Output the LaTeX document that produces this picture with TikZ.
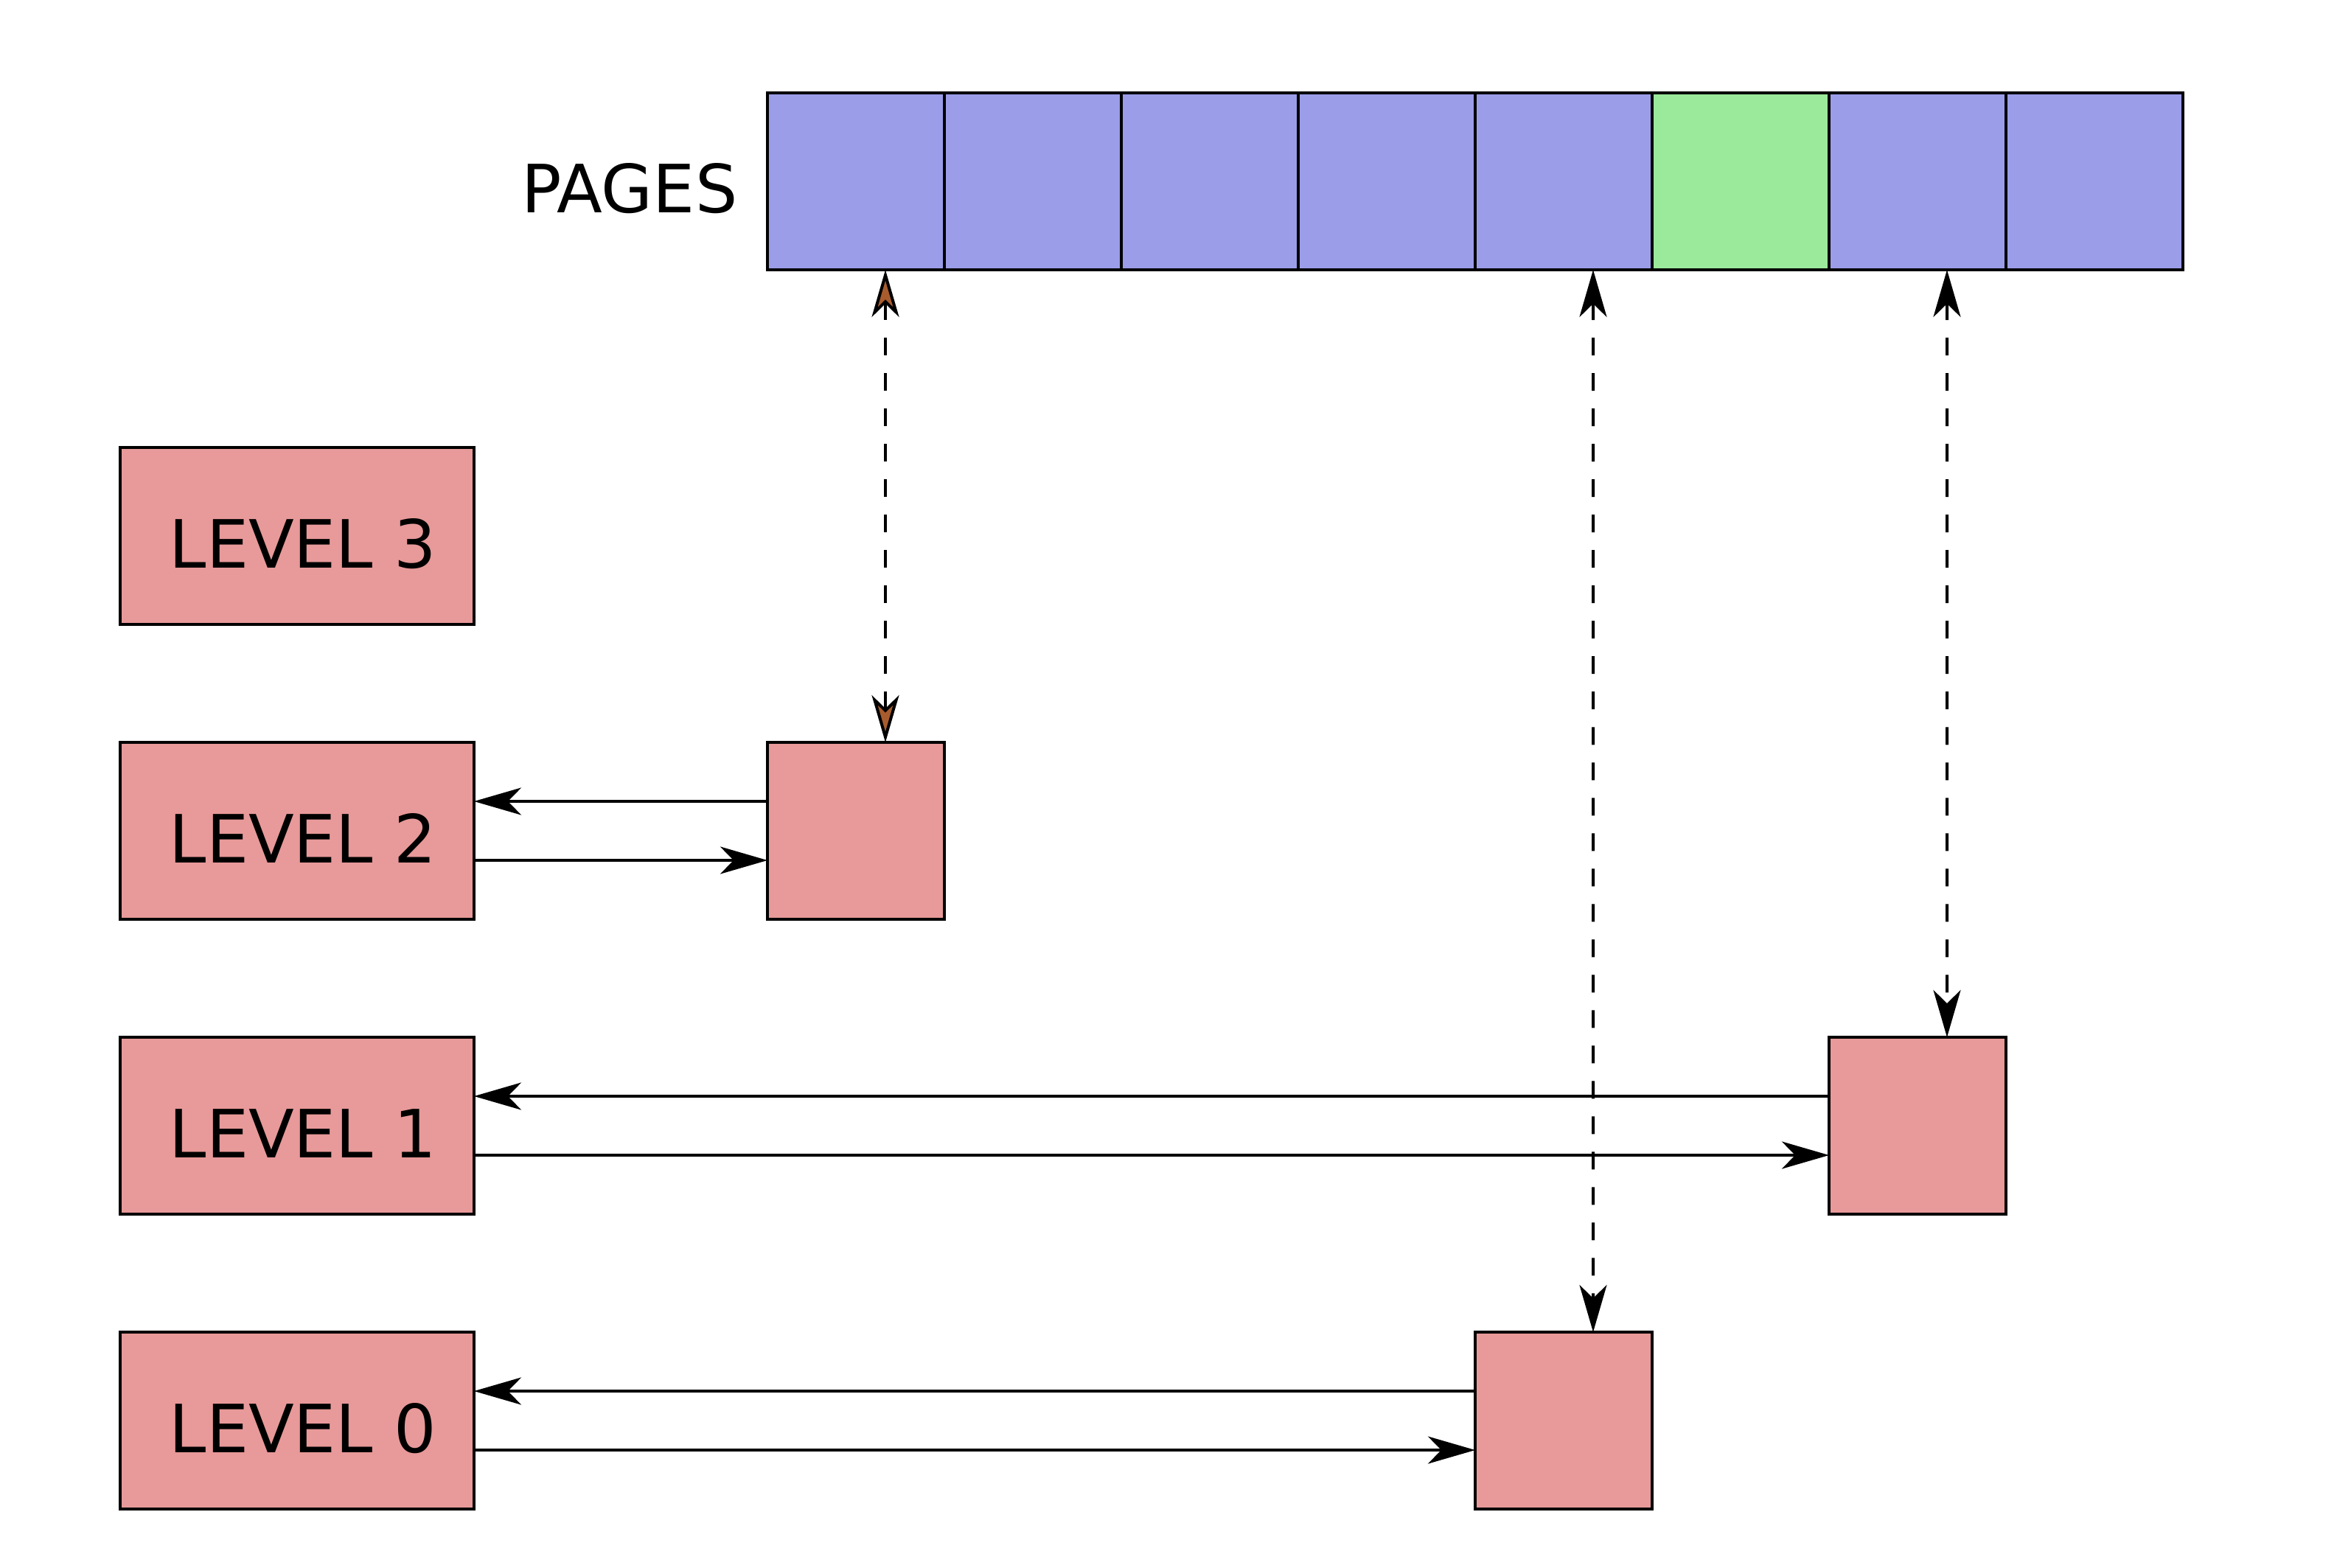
\documentclass[tikz,border=0pt]{standalone}
\usepackage{fontspec}
\setmainfont{DejaVu Sans}
\usetikzlibrary{arrows.meta,calc}

\definecolor{pagefill}{RGB}{155,157,233}
\definecolor{hotfill}{RGB}{155,233,155}
\definecolor{levelfill}{RGB}{232,153,153}
\definecolor{tipbrown}{RGB}{168,92,45}

\tikzset{
  box/.style={draw, line width=0.04cm, inner sep=0pt, outer sep=0pt, anchor=north west},
  cell/.style={box, minimum width=2.4cm, minimum height=2.4cm},
  levelbox/.style={box, fill=levelfill, minimum width=4.8cm, minimum height=2.4cm},
  slotbox/.style={box, fill=levelfill, minimum width=2.4cm, minimum height=2.4cm},
  lbl/.style={inner sep=0pt, font=\fontsize{25.7pt}{31pt}\selectfont},
  flow/.style={line width=0.04cm, -{Stealth[length=0.64cm,width=0.37cm,inset=0.18cm]}},
  link/.style={line width=0.04cm, dash pattern=on 0.24cm off 0.24cm,
    {Stealth[length=0.64cm,width=0.37cm,inset=0.18cm]}-{Stealth[length=0.64cm,width=0.37cm,inset=0.18cm]}},
  brownlink/.style={line width=0.04cm, dash pattern=on 0.24cm off 0.24cm,
    {Stealth[length=0.64cm,width=0.37cm,inset=0.18cm,fill=tipbrown]}-{Stealth[length=0.64cm,width=0.37cm,inset=0.18cm,fill=tipbrown]}},
}

\begin{document}
\begin{tikzpicture}
\useasboundingbox (0,0) rectangle (31.89,-21.26);

% page strip
\foreach \i/\c in {0/pagefill,1/pagefill,2/pagefill,3/pagefill,4/pagefill,5/hotfill,6/pagefill,7/pagefill}
  \node[cell, fill=\c] (p\i) at ({10.41+2.4*\i},-1.26) {};
\node[lbl, anchor=base east] (pages) at (10.01,-2.88) {PAGES};

% level boxes
\node[levelbox] (l3) at (1.63,-6.07) {};
\node[levelbox] (l2) at (1.63,-10.07) {};
\node[levelbox] (l1) at (1.63,-14.07) {};
\node[levelbox] (l0) at (1.63,-18.07) {};
\node[lbl, anchor=base west] (t3) at (2.29,-7.70) {LEVEL 3};
\node[lbl, anchor=base west] (t2) at (2.29,-11.70) {LEVEL 2};
\node[lbl, anchor=base west] (t1) at (2.29,-15.70) {LEVEL 1};
\node[lbl, anchor=base west] (t0) at (2.29,-19.70) {LEVEL 0};

% per-level slots
\node[slotbox] (b2) at (10.41,-10.07) {};
\node[slotbox] (b1) at (24.81,-14.07) {};
\node[slotbox] (b0) at (20.01,-18.07) {};

% links between levels and their slots
\foreach \k in {2,1,0} {
  \coordinate (u\k) at ($(b\k.north west)!1/3!(b\k.south west)$);
  \coordinate (d\k) at ($(b\k.north west)!2/3!(b\k.south west)$);
  \draw[flow] (u\k) -- (l\k.east |- u\k);
  \draw[flow] (l\k.east |- d\k) -- (d\k);
}

% slots mapped to pages
\coordinate (s2) at ($(p0.south west)!2/3!(p0.south east)$);
\coordinate (e2) at ($(b2.north west)!2/3!(b2.north east)$);
\coordinate (s0) at ($(p4.south west)!2/3!(p4.south east)$);
\coordinate (e0) at ($(b0.north west)!2/3!(b0.north east)$);
\coordinate (s1) at ($(p6.south west)!2/3!(p6.south east)$);
\coordinate (e1) at ($(b1.north west)!2/3!(b1.north east)$);
\draw[brownlink] (s2) -- (e2);
\draw[link] (s0) -- (e0);
\draw[link] (s1) -- (e1);
\end{tikzpicture}
\end{document}
